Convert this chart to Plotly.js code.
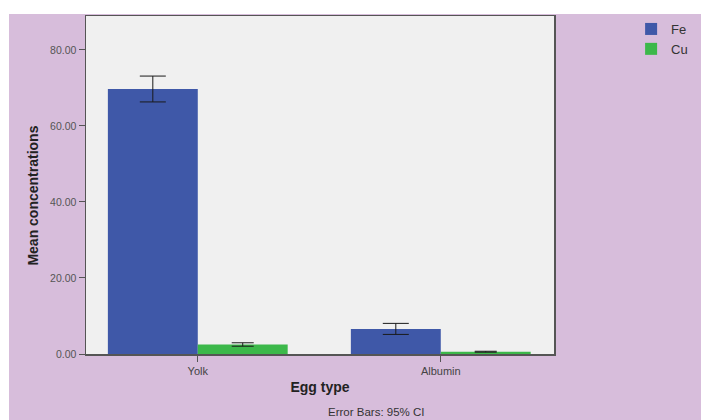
<!DOCTYPE html>
<html>
<head>
<meta charset="utf-8">
<script src="https://cdn.plot.ly/plotly-3.0.1.min.js"></script>
<style>
  html, body { margin: 0; padding: 0; background: #ffffff; width: 701px; height: 420px; overflow: hidden; }
  #chart { position: absolute; left: 9px; top: 14px; width: 692px; height: 406px; }
</style>
</head>
<body>
<div id="chart"></div>
<script>
const categories = ["Yolk", "Albumin"];
const seriesNames = ["Fe", "Cu"];
const feMeans = [69.7, 6.6];
const feCI = [3.4, 1.45];
const cuMeans = [2.5, 0.6];
const cuCI = [0.45, 0.12];
const yTicks = [0, 20, 40, 60, 80];

const font = "Liberation Sans, Arial, sans-serif";

const traces = [
  {
    type: "bar", name: seriesNames[0], x: categories, y: feMeans,
    marker: { color: "#3f58a8", line: { width: 0 } },
    error_y: { type: "data", array: feCI, visible: true, color: "#1a1a1a", thickness: 1, width: 13 }
  },
  {
    type: "bar", name: seriesNames[1], x: categories, y: cuMeans,
    marker: { color: "#3cb84a", line: { width: 0 } },
    error_y: { type: "data", array: cuCI, visible: true, color: "#1a1a1a", thickness: 1, width: 11 }
  }
];

const layout = {
  width: 692, height: 406,
  margin: { l: 77, r: 147, t: 2, b: 66, autoexpand: false },
  paper_bgcolor: "#d7bddb",
  plot_bgcolor: "#f0f0f0",
  barmode: "group",
  bargap: 0.26,
  bargroupgap: 0,
  showlegend: true,
  legend: {
    xref: "container", yref: "container",
    x: 0.899, xanchor: "left", y: 1.03, yanchor: "top",
    bgcolor: "rgba(0,0,0,0)",
    font: { family: font, size: 13, color: "#333" },
    itemwidth: 30, tracegroupgap: 0
  },
  xaxis: {
    type: "category",
    range: [-0.46, 1.466],
    showline: true, linecolor: "#555", linewidth: 1.5, mirror: true,
    ticks: "outside", ticklen: 6, tickcolor: "#555",
    tickfont: { family: font, size: 11, color: "#444" },
    title: { text: "<b>Egg type</b>", font: { family: font, size: 14, color: "#222" }, standoff: 6 },
    fixedrange: true
  },
  yaxis: {
    range: [0, 88.9],
    tickvals: yTicks,
    tickformat: ".2f",
    showgrid: false, zeroline: false,
    showline: true, linecolor: "#555", linewidth: 1.5, mirror: true,
    ticks: "outside", ticklen: 6, tickcolor: "#555",
    tickfont: { family: font, size: 10.5, color: "#555" },
    fixedrange: true
  },
  annotations: [
    {
      text: "<b>Mean concentrations</b>", xref: "paper", yref: "paper",
      x: -0.113, y: 0.469, xanchor: "center", yanchor: "middle", textangle: -90, showarrow: false,
      font: { family: font, size: 14, color: "#222" }
    },
    {
      text: "Error Bars: 95% CI", xref: "paper", yref: "paper",
      x: 0.62, y: -0.172, xanchor: "center", yanchor: "middle", showarrow: false,
      font: { family: font, size: 11.5, color: "#333" }
    }
  ]
};

Plotly.newPlot("chart", traces, layout, { displayModeBar: false, staticPlot: true });
</script>
</body>
</html>
